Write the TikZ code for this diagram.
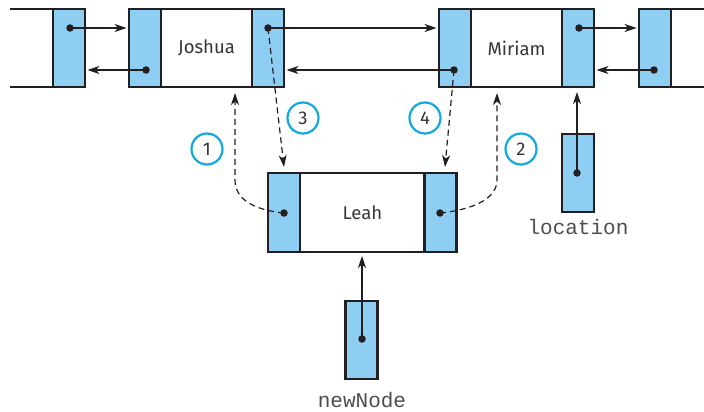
\documentclass[tikz,border=0pt]{standalone}
\usepackage{fontspec}
\setmainfont{Fira Sans}
\setmonofont{Liberation Mono}
\usetikzlibrary{arrows.meta}
\definecolor{cellblue}{HTML}{8ECEF3}
\definecolor{ringcyan}{HTML}{13A8E0}
\definecolor{ink}{HTML}{231F20}
\begin{document}
\begin{tikzpicture}[x=1pt,y=-1pt,
  ptr/.style={draw=ink,fill=cellblue,line width=2.6pt,minimum width=32pt,minimum height=78pt,inner sep=0pt,outer sep=0pt},
  dat/.style={draw=ink,fill=white,line width=2.6pt,minimum height=78pt,inner sep=0pt,outer sep=0pt,font=\fontsize{18.5}{21}\selectfont,text=ink!90},
  dot/.style={circle,fill=ink,inner sep=0pt,minimum size=7.5pt},
  arr/.style={draw=ink,line width=1.2pt,-{Stealth[length=12pt,width=8pt,inset=3.5pt]},shorten >=2.5pt},
  dsh/.style={draw=ink,line width=1.2pt,dash pattern=on 6pt off 4pt,-{Stealth[length=12pt,width=8pt,inset=3.5pt]}},
  ring/.style={circle,draw=ringcyan,line width=2.2pt,minimum size=31pt,inner sep=0pt,font=\fontsize{18.5}{21}\selectfont,text=ink!90},
  lbl/.style={anchor=base,font=\ttfamily\fontsize{21}{23}\selectfont,text=ink!80}
]
\useasboundingbox (0,0) rectangle (704,412);

% left partial node
\coordinate (lpA) at (10,9);
\coordinate (lpB) at (10,87);
\node[ptr] (lpR) at (69,48) {};
\draw[ink,line width=2.6pt] (lpA) -- (lpR.north west);
\draw[ink,line width=2.6pt] (lpB) -- (lpR.south west);

% Joshua
\node[dat,minimum width=91pt] (jM) at (206.5,48) {Joshua};
\node[ptr] (jL) at (145,48) {};
\node[ptr] (jR) at (268,48) {};

% Miriam
\node[dat,minimum width=91pt] (mM) at (516.5,48) {Miriam};
\node[ptr] (mL) at (455,48) {};
\node[ptr] (mR) at (578,48) {};

% right partial node
\coordinate (rpA) at (704,9);
\coordinate (rpB) at (704,87);
\node[ptr] (rpL) at (655,48) {};
\draw[ink,line width=2.6pt] (rpL.north east) -- (rpA);
\draw[ink,line width=2.6pt] (rpL.south east) -- (rpB);

% Leah
\node[dat,minimum width=125pt,minimum height=79pt] (lM) at (362.5,212.5) {Leah};
\node[ptr,minimum height=79pt] (lL) at (284,212.5) {};
\node[ptr,minimum height=79pt] (lR) at (440.5,212.5) {};

% external pointers
\node[ptr] (nn) at (361.5,340) {};
\node[ptr] (loc) at (578,173) {};
\node[lbl] (nnl) at (362,407) {newNode};
\node[lbl] (locl) at (578,234) {location};

% dots
\node[dot] (d1) at (70,28) {};
\node[dot] (d2) at (146,70) {};
\node[dot] (d3) at (268,28) {};
\node[dot] (d4) at (454,70) {};
\node[dot] (d5) at (284,213) {};
\node[dot] (d6) at (440,213) {};
\node[dot] (d7) at (579,28) {};
\node[dot] (d8) at (654,70) {};
\node[dot] (d9) at (362,339) {};
\node[dot] (d10) at (577,173) {};

% solid links
\draw[arr] (d1.center) -- (jL.west |- d1.center);
\draw[arr] (d2.center) -- (lpR.east |- d2.center);
\draw[arr] (d3.center) -- (mL.west |- d3.center);
\draw[arr] (d4.center) -- (jR.east |- d4.center);
\draw[arr] (d7.center) -- (rpL.west |- d7.center);
\draw[arr] (d8.center) -- (mR.east |- d8.center);
\draw[arr,shorten >=4pt] (d9.center) -- (d9.center |- lM.south);
\draw[arr,shorten >=5pt] (d10.center) -- (d10.center |- mR.south);

% dashed links
\coordinate (e1) at (235,93);
\coordinate (e2) at (497,93);
\coordinate (e3) at (284,167);
\coordinate (e4) at (445,167);
\draw[dsh] (d5.center) .. controls (255,210) and (235,200) .. (235,180) -- (e1);
\draw[dsh] (d6.center) .. controls (470,210) and (497,200) .. (497,180) -- (e2);
\draw[dsh] (d3.center) -- (e3);
\draw[dsh] (d4.center) -- (e4);

% step numbers
\node[ring] (c1) at (207,149) {1};
\node[ring] (c2) at (521,149) {2};
\node[ring] (c3) at (303,118) {3};
\node[ring] (c4) at (425,118) {4};
\end{tikzpicture}
\end{document}
